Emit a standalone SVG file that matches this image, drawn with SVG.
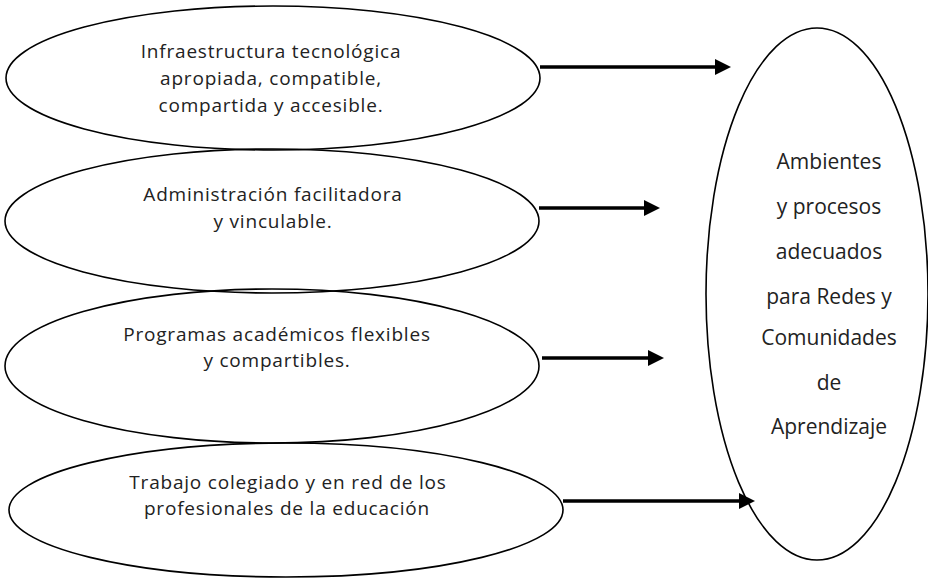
<svg xmlns="http://www.w3.org/2000/svg" width="928" height="580" viewBox="0 0 928 580">
<defs>
<style>
.node ellipse{fill:none;stroke:#000;stroke-width:1.6}
.lbl{font-family:"Open Sans","Liberation Sans",sans-serif;font-size:19px;letter-spacing:0.8px;fill:#222;text-anchor:middle}
.big{font-size:21px;letter-spacing:0}
.conn line{stroke:#000;stroke-width:3.5}
</style>
<marker id="ah" viewBox="0 0 16 16" refX="4" refY="8" markerWidth="16" markerHeight="16" markerUnits="userSpaceOnUse" orient="auto">
<path d="M0,0 L16,8 L0,16 z" fill="#000"/>
</marker>
</defs>
<rect width="928" height="580" fill="#fff"/>
<g id="n1" class="node">
<ellipse cx="273" cy="78" rx="267" ry="72"/>
<text class="lbl" x="271" y="58">Infraestructura tecnológica</text>
<text class="lbl" x="271" y="85">apropiada, compatible,</text>
<text class="lbl" x="271" y="112">compartida y accesible.</text>
</g>
<g id="n2" class="node">
<ellipse cx="272" cy="221" rx="267" ry="72"/>
<text class="lbl" x="273" y="201">Administración facilitadora</text>
<text class="lbl" x="273" y="228">y vinculable.</text>
</g>
<g id="n3" class="node">
<ellipse cx="272" cy="366" rx="267" ry="77"/>
<text class="lbl" x="277" y="341">Programas académicos flexibles</text>
<text class="lbl" x="277" y="367">y compartibles.</text>
</g>
<g id="n4" class="node">
<ellipse cx="286" cy="510" rx="277" ry="67"/>
<text class="lbl" x="288" y="489">Trabajo colegiado y en red de los</text>
<text class="lbl" x="287" y="515">profesionales de la educación</text>
</g>
<g id="n5" class="node">
<ellipse cx="817" cy="294" rx="111" ry="266"/>
<text class="lbl big" x="829" y="169">Ambientes</text>
<text class="lbl big" x="829" y="214">y procesos</text>
<text class="lbl big" x="829" y="259">adecuados</text>
<text class="lbl big" x="829" y="304">para Redes y</text>
<text class="lbl big" x="829" y="345">Comunidades</text>
<text class="lbl big" x="829" y="390">de</text>
<text class="lbl big" x="829" y="434">Aprendizaje</text>
</g>
<g id="connectors" class="conn">
<line x1="540" y1="67" x2="719" y2="67" marker-end="url(#ah)"/>
<line x1="539" y1="208" x2="648" y2="208" marker-end="url(#ah)"/>
<line x1="542" y1="358" x2="652" y2="358" marker-end="url(#ah)"/>
<line x1="563" y1="501" x2="743" y2="501" marker-end="url(#ah)"/>
</g>
</svg>
